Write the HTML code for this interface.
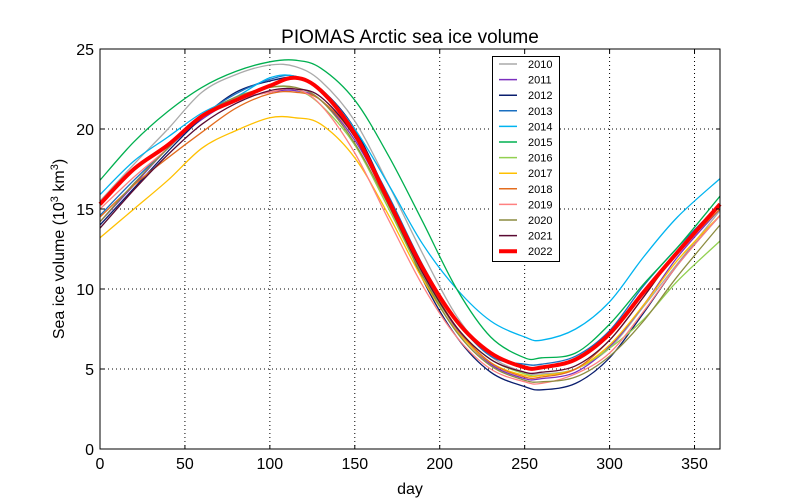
<!DOCTYPE html>
<html><head><meta charset="utf-8"><style>body{margin:0;background:#fff}svg{display:block;font-family:"Liberation Sans",sans-serif}</style></head>
<body>
<svg id="c" width="800" height="500" viewBox="0 0 800 500" xmlns="http://www.w3.org/2000/svg">
<rect width="800" height="500" fill="#fff"/>
<text x="410" y="43" font-size="19" text-anchor="middle">PIOMAS Arctic sea ice volume</text>
<text x="410" y="494" font-size="16" text-anchor="middle">day</text>
<text transform="translate(64,249) rotate(-90)" font-size="16" text-anchor="middle">Sea ice volume (10<tspan dy="-6" font-size="11">3</tspan><tspan dy="6"> km</tspan><tspan dy="-6" font-size="11">3</tspan><tspan dy="6">)</tspan></text>
<g id="grid"></g><g id="series"></g><g id="axes"></g><g id="legend"></g>
</svg>
<script>
const days=[0,20,40,60,80,100,115,130,150,170,190,210,230,250,260,280,300,320,340,365];
const years=['2010','2011','2012','2013','2014','2015','2016','2017','2018','2019','2020','2021','2022'];
const colors=['#aaaaaa','#7b2fbe','#0a1e6e','#1a6fc0','#00b4f0','#00b050','#92d050','#ffc000','#e36c1e','#ff8080','#8c8c40','#5a0a32','#ff0000'];
const v2010=[15.5,17.8,20.0,22.3,23.4,24.0,23.9,23.0,20.5,16.5,12.2,8.3,5.8,4.8,4.7,5.0,6.3,8.9,11.6,14.9];
const v2011=[14.2,16.5,18.8,20.6,21.8,22.3,22.4,21.8,19.3,15.4,11.0,7.5,5.3,4.4,4.4,4.8,6.4,9.0,12.0,15.0];
const v2012=[14.0,16.3,18.6,20.7,22.3,23.0,23.2,22.5,20.0,15.6,10.6,7.0,4.8,3.9,3.7,4.1,5.7,8.5,11.5,14.6];
const v2013=[14.6,16.8,18.8,20.8,22.2,23.1,23.3,22.3,19.7,15.8,11.5,8.0,5.8,5.3,5.3,5.8,7.4,10.2,12.6,15.3];
const v2014=[15.9,18.0,19.5,21.0,22.0,23.2,23.3,22.5,20.0,16.5,12.8,10.0,8.0,7.0,6.8,7.5,9.2,12.0,14.5,16.9];
const v2015=[16.8,19.2,21.1,22.6,23.6,24.2,24.3,23.8,21.8,18.3,14.2,10.0,7.0,5.7,5.7,6.0,7.8,10.3,12.6,15.8];
const v2016=[15.2,17.4,19.0,20.8,21.9,22.6,22.5,21.5,19.0,15.0,10.8,7.6,5.6,4.7,4.6,5.0,6.3,8.1,10.5,13.0];
const v2017=[13.2,15.0,16.8,18.8,19.9,20.7,20.7,20.3,18.2,14.6,10.6,7.4,5.4,4.6,4.6,5.0,6.5,9.0,11.8,14.6];
const v2018=[14.5,16.5,18.2,19.8,21.3,22.2,22.3,21.8,19.5,15.4,11.2,7.6,5.4,4.5,4.5,5.0,6.8,9.5,12.3,15.0];
const v2019=[15.0,17.0,18.8,20.8,21.8,22.3,22.5,21.5,18.5,14.3,10.2,7.0,5.0,4.2,4.1,4.7,6.0,8.6,11.5,14.6];
const v2020=[14.2,16.6,18.8,20.8,22.0,22.6,22.6,21.8,19.1,15.2,10.8,7.3,5.2,4.3,4.2,4.5,5.8,8.0,10.8,14.0];
const v2021=[13.8,16.2,18.4,20.3,21.6,22.4,22.5,22.0,19.5,15.3,11.0,7.6,5.6,4.8,4.8,5.2,6.8,9.5,12.4,15.2];
const v2022=[15.3,17.5,19.0,20.8,21.8,22.7,23.2,22.4,19.7,15.5,11.3,8.0,6.0,5.1,5.1,5.6,7.2,9.8,12.3,15.3];
const xTicks=[0,50,100,150,200,250,300,350];
const yTicks=[0,5,10,15,20,25];
const all=[v2010,v2011,v2012,v2013,v2014,v2015,v2016,v2017,v2018,v2019,v2020,v2021,v2022];
const X0=100,X1=720,Y0=449,Y1=49;
const xs=d=>X0+(X1-X0)*d/365, ys=v=>Y0-(Y0-Y1)*v/25;
const NS='http://www.w3.org/2000/svg';
function mk(t,a,p){const e=document.createElementNS(NS,t);for(const k in a)e.setAttribute(k,a[k]);p.appendChild(e);return e;}
const grid=document.getElementById('grid'),axes=document.getElementById('axes'),ser=document.getElementById('series'),leg=document.getElementById('legend');
xTicks.forEach(t=>{const x=xs(t);
 if(t>0){const l=mk('line',{x1:x,x2:x,y1:Y1,y2:Y0,stroke:'#000','stroke-dasharray':'1,3','stroke-width':1},grid);}
 mk('line',{x1:x,x2:x,y1:Y0,y2:Y0-4,stroke:'#000'},axes);mk('line',{x1:x,x2:x,y1:Y1,y2:Y1+4,stroke:'#000'},axes);
 const tx=mk('text',{x:x,y:Y0+20,'font-size':16,'text-anchor':'middle'},axes);tx.textContent=t;
 });
yTicks.forEach(t=>{const y=ys(t);
 if(t>0&&t<25){const l=mk('line',{x1:X0,x2:X1,y1:y,y2:y,stroke:'#000','stroke-dasharray':'1,3','stroke-width':1},grid);}
 mk('line',{x1:X0,x2:X0+4,y1:y,y2:y,stroke:'#000'},axes);mk('line',{x1:X1,x2:X1-4,y1:y,y2:y,stroke:'#000'},axes);
 const tx=mk('text',{x:X0-6,y:y+6,'font-size':16,'text-anchor':'end'},axes);tx.textContent=t;
 });
function path(vals){const p=days.map((d,i)=>[xs(d),ys(vals[i])]);let s='M'+p[0][0]+','+p[0][1];
 for(let i=0;i<p.length-1;i++){const a=p[Math.max(0,i-1)],b=p[i],c=p[i+1],d=p[Math.min(p.length-1,i+2)];
  s+=' C'+(b[0]+(c[0]-a[0])/6)+','+(b[1]+(c[1]-a[1])/6)+' '+(c[0]-(d[0]-b[0])/6)+','+(c[1]-(d[1]-b[1])/6)+' '+c[0]+','+c[1];}
 return s;}
all.forEach((v,i)=>{const e=mk('path',{d:path(v),fill:'none',stroke:colors[i],'stroke-width':i==12?4:1.3,'stroke-linejoin':'round'},ser);
 });
const fr=mk('rect',{x:X0,y:Y1,width:X1-X0,height:Y0-Y1,fill:'none',stroke:'#000','stroke-width':1},axes);

const lb=mk('rect',{x:492.5,y:56.5,width:67,height:205,fill:'#fff',stroke:'#000','stroke-width':1},leg);

years.forEach((yr,i)=>{const y=64+i*15.6;
 const l=mk('line',{x1:499,x2:517,y1:y,y2:y,stroke:colors[i],'stroke-width':i==12?4:1.5},leg);
 
 const t=mk('text',{x:528,y:y+4,'font-size':11},leg);t.textContent=yr;
 });
</script>
</body></html>
